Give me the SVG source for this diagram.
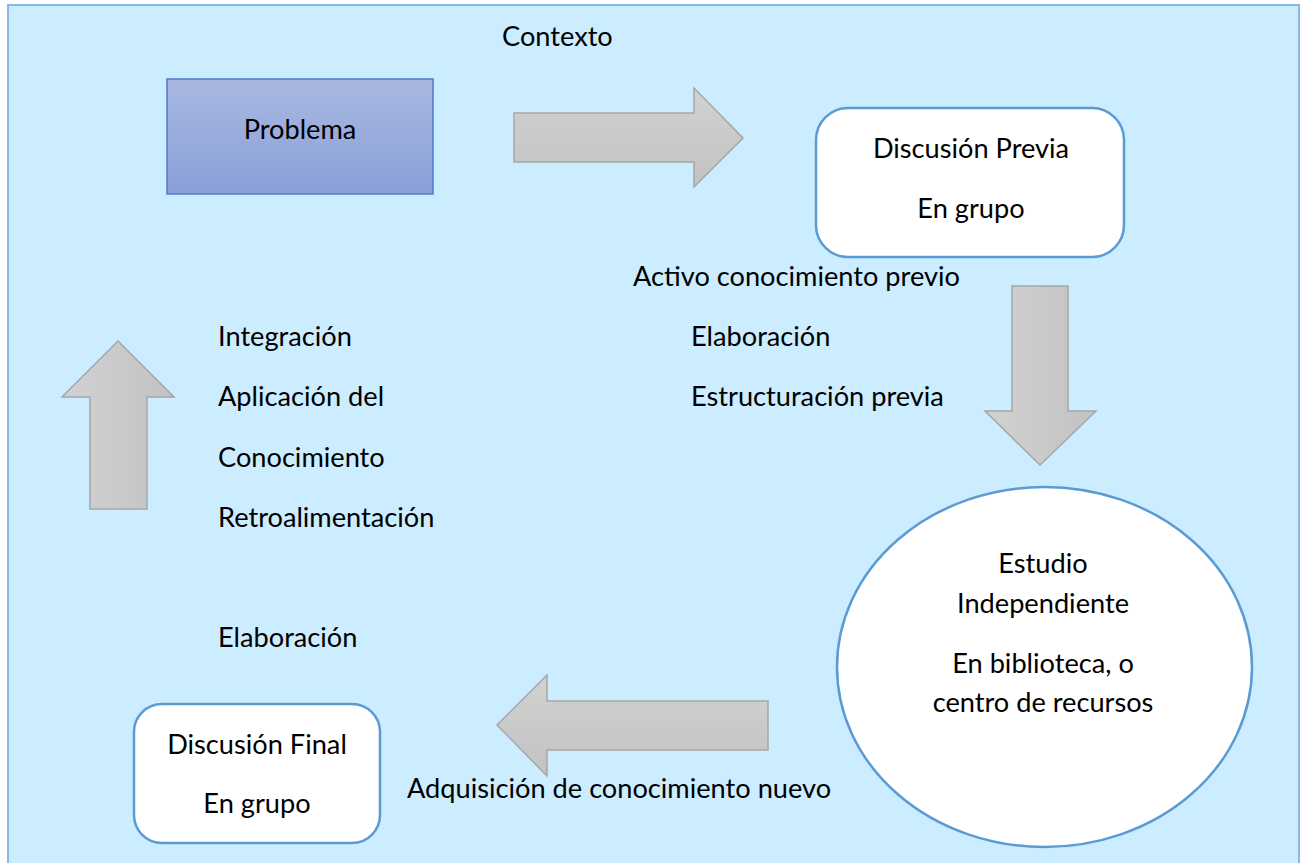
<svg xmlns="http://www.w3.org/2000/svg" width="1301" height="863" viewBox="0 0 1301 863">
<style>
text{font-family:Lato,"Open Sans","DejaVu Sans",sans-serif;font-size:27.2px;fill:#000}
.c{text-anchor:middle}
.arrow{fill:url(#gv);stroke:#A6A6A6;stroke-width:1.5}
.arrowh{fill:url(#gh);stroke:#A6A6A6;stroke-width:1.5}
.box{fill:#fff;stroke:#5B9BD5;stroke-width:2.5}
</style>
<defs>
<linearGradient id="gb" x1="0" y1="0" x2="0" y2="1"><stop offset="0" stop-color="#A9B8E1"/><stop offset="1" stop-color="#88A0D8"/></linearGradient>
<linearGradient id="gv" x1="0" y1="0" x2="0" y2="1"><stop offset="0" stop-color="#D2D2D2"/><stop offset="1" stop-color="#C2C2C2"/></linearGradient>
<linearGradient id="gh" x1="0" y1="0" x2="1" y2="0"><stop offset="0" stop-color="#D2D2D2"/><stop offset="1" stop-color="#C2C2C2"/></linearGradient>
</defs>
<rect id="bg" x="8" y="5" width="1291" height="870" fill="#CCECFF" stroke="#8DB6E4" stroke-width="2"/>
<text x="502" y="46">Contexto</text>
<g id="problema">
<rect x="167" y="79" width="266" height="115" fill="url(#gb)" stroke="#4F7BCB" stroke-width="1.5"/>
<text class="c" x="300" y="139">Problema</text>
</g>
<g id="discusion-previa">
<rect class="box" x="816" y="108" width="308" height="149" rx="32"/>
<text class="c" x="971" y="158">Discusión Previa</text>
<text class="c" x="971" y="218">En grupo</text>
</g>
<g id="estudio">
<ellipse class="box" cx="1044.5" cy="667" rx="207.5" ry="180"/>
<text class="c" x="1043" y="573">Estudio</text>
<text class="c" x="1043" y="613">Independiente</text>
<text class="c" x="1043" y="673">En biblioteca, o</text>
<text class="c" x="1043" y="712">centro de recursos</text>
</g>
<g id="discusion-final">
<rect class="box" x="134" y="704" width="246" height="139" rx="28"/>
<text class="c" x="257" y="754">Discusión Final</text>
<text class="c" x="257" y="813">En grupo</text>
</g>
<g id="connectors">
<path class="arrow" d="M514,113 H694 V88 L743,138 L694,187 V162 H514 Z"/>
<path class="arrowh" d="M1012,286 H1068 V411 H1096 L1040,465 L985,411 H1012 Z"/>
<path class="arrow" d="M768,701 V750 H547 V776 L497,725 L547,675 V701 Z"/>
<path class="arrowh" d="M90,509 V397 H62 L118,341 L174,397 H147 V509 Z"/>
</g>
<g id="labels">
<text x="633" y="286">Activo conocimiento previo</text>
<text x="691" y="346">Elaboración</text>
<text x="691" y="406">Estructuración previa</text>
<text x="218" y="346">Integración</text>
<text x="218" y="406">Aplicación del</text>
<text x="218" y="467">Conocimiento</text>
<text x="218" y="527">Retroalimentación</text>
<text x="218" y="647">Elaboración</text>
<text x="407" y="798">Adquisición de conocimiento nuevo</text>
</g>
</svg>
